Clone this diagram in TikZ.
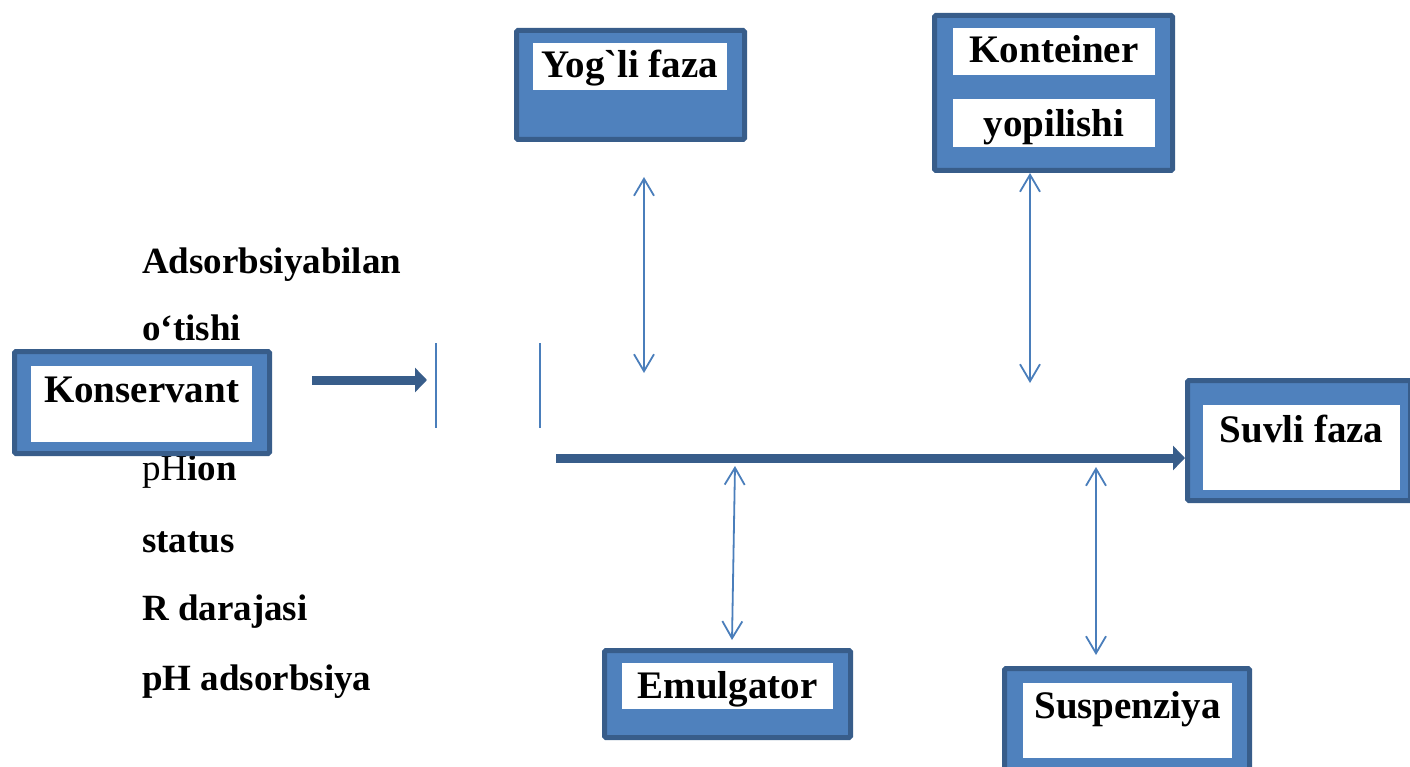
\documentclass[tikz,border=0pt]{standalone}
\usepackage{fontspec}
\setmainfont{Liberation Serif}
\usetikzlibrary{arrows.meta, positioning, calc}
\definecolor{panelblue}{RGB}{79,129,189}
\definecolor{paneledge}{RGB}{56,93,138}
\definecolor{linkblue}{RGB}{74,126,187}

\begin{document}
\begin{tikzpicture}[
  x=1pt, y=-1pt,
  panel/.style={rectangle, draw=paneledge, fill=panelblue, line width=5pt,
                rounded corners=1.5pt, inner sep=0pt},
  tag/.style={rectangle, fill=white, inner sep=0pt},
  boxtext/.style={font=\fontsize{39}{44}\selectfont\bfseries, inner sep=0pt, anchor=base},
  side/.style={font=\fontsize{37}{42}\selectfont\bfseries, inner sep=0pt, anchor=base west},
  flow/.style={paneledge, line width=9pt, -{Triangle[length=12pt, width=24pt]}},
  link/.style={linkblue, line width=1.8pt,
               {Straight Barb[length=17pt, width=20pt]}-{Straight Barb[length=17pt, width=20pt]}},
  stub/.style={linkblue, line width=2pt},
]
\clip (0,0) rectangle (1410,767);

% text column on the left
\node[side] (adsorb) at (142,273) {Adsorbsiyabilan};
\node[side] (otish) at (142,340) {o‘tishi};
\node[side] (phion) at (142,480) {{\mdseries pH}ion};
\node[side] (status) at (142,552) {status};
\node[side] (rdar) at (142,620) {R darajasi};
\node[side] (phads) at (142,690) {pH adsorbsiya};

% boxes
\node[panel, minimum width=255pt, minimum height=102pt] (kons) at (142,402.5) {};
\node[tag, minimum width=221pt, minimum height=76pt] (konstag) at (141.5,404) {};
\node[boxtext] (konstxt) at (141.5,402) {Konservant};

\node[panel, minimum width=228pt, minimum height=109pt] (yogli) at (630.5,85) {};
\node[tag, minimum width=194pt, minimum height=47pt] (yoglitag) at (630,66.5) {};
\node[boxtext] (yoglitxt) at (630,78) {Yog\textasciigrave li faza};

\node[panel, minimum width=238pt, minimum height=155pt] (kont) at (1053.5,93) {};
\node[tag, minimum width=202pt, minimum height=47pt] (konttagA) at (1054,51.5) {};
\node[tag, minimum width=202pt, minimum height=48pt] (konttagB) at (1054,123) {};
\node[boxtext] (konttxtA) at (1054,63) {Konteiner};
\node[boxtext] (konttxtB) at (1054,137) {yopilishi};

\node[panel, minimum width=223pt, minimum height=120pt] (suvli) at (1299,440.5) {};
\node[tag, minimum width=197pt, minimum height=85pt] (suvlitag) at (1301.5,447.5) {};
\node[boxtext] (suvlitxt) at (1301.5,442) {Suvli faza};

\node[panel, minimum width=246pt, minimum height=87pt] (emul) at (727.5,694) {};
\node[tag, minimum width=211pt, minimum height=46pt] (emultag) at (727.5,686) {};
\node[boxtext] (emultxt) at (727.5,698) {Emulgator};

\node[panel, minimum width=245pt, minimum height=104pt] (susp) at (1127,720.5) {};
\node[tag, minimum width=209pt, minimum height=75pt] (susptag) at (1127.5,720.5) {};
\node[boxtext] (susptxt) at (1127.5,718) {Suspenziya};

% connectors
\coordinate (flowA) at (312,380);
\coordinate (flowB) at (427,380);
\coordinate (stubAt) at (436,343);
\coordinate (stubAb) at (436,428);
\coordinate (stubBt) at (540,343);
\coordinate (stubBb) at (540,428);
\coordinate (mainA) at (556,458);
\coordinate (oilA) at (644,177);
\coordinate (oilB) at (644,373);
\coordinate (lidA) at (1030,173);
\coordinate (lidB) at (1030,383);
\coordinate (emulA) at (735,466);
\coordinate (emulB) at (732,640);
\coordinate (suspA) at (1096,467);
\coordinate (suspB) at (1096,655);

\draw[flow] (flowA) -- (flowB);
\draw[stub] (stubAt) -- (stubAb);
\draw[stub] (stubBt) -- (stubBb);
\draw[flow] (mainA) -- (mainA -| suvli.west);
\draw[link] (oilA) -- (oilB);
\draw[link] (lidA) -- (lidB);
\draw[link] (emulA) -- (emulB);
\draw[link] (suspA) -- (suspB);

\end{tikzpicture}
\end{document}
